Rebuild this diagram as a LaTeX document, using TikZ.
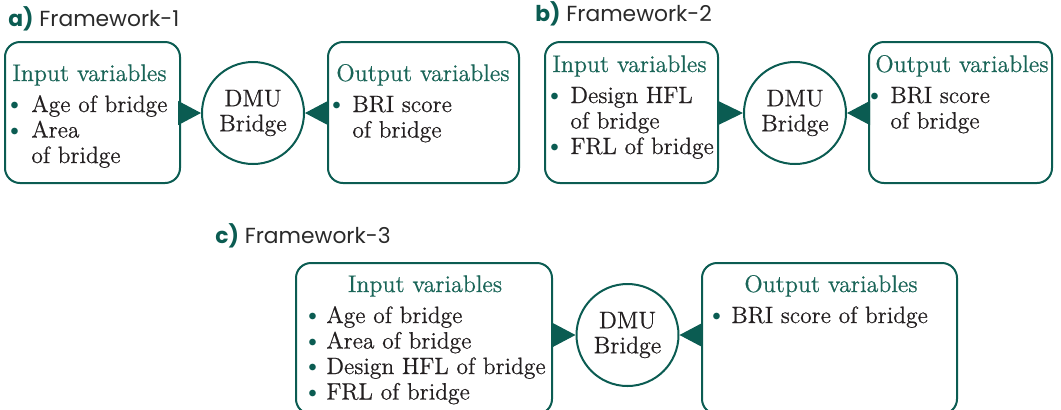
\documentclass[tikz,border=0pt]{standalone}
\usepackage{fontspec}
\setmainfont{Latin Modern Roman}[FakeBold=0.6]
\newfontfamily\labelfont{Poppins}
\usetikzlibrary{arrows.meta}

\definecolor{dmugreen}{HTML}{0B5C52}
\definecolor{headgreen}{HTML}{1A6558}
\definecolor{bodytext}{HTML}{231F20}
\definecolor{labelgray}{HTML}{2A2A2A}

\newcommand{\bul}{\textcolor{dmugreen}{\raisebox{1.2pt}{\fontsize{8.5}{9}\selectfont$\bullet$}}}
\newcommand{\fwlabel}[2]{{\labelfont\fontsize{10.9}{13}\selectfont\textcolor{dmugreen}{\bfseries #1)}\ \textcolor{labelgray}{Framework-#2}}}

\tikzset{
  varbox/.style={draw=dmugreen, line width=1pt, rounded corners=7.5pt, inner sep=0pt},
  dmu/.style={circle, draw=dmugreen, line width=1pt, minimum size=51pt, inner sep=0pt,
    align=center, font=\fontsize{12}{12.5}\selectfont, text=bodytext},
  feed/.style={draw=dmugreen, line width=0.6pt, -{Triangle[length=#1,width=12pt]}},
  feed/.default=11.5pt,
  vhead/.style={font=\fontsize{12}{13}\selectfont, text=headgreen, inner sep=0pt},
  vlist/.style={font=\fontsize{11.8}{12.75}\selectfont, text=bodytext, inner sep=0pt, anchor=base west},
  fwtitle/.style={inner sep=0pt, anchor=base west}
}

\begin{document}
\begin{tikzpicture}[x=0.5pt, y=-0.5pt]
  \useasboundingbox (0,0) rectangle (1061,409);

  % a) Framework-1
  \node[fwtitle] (laba) at (8,26) {\fwlabel{a}{1}};
  \node[varbox, minimum width=87.5pt, minimum height=70.5pt] (ina) at (92.5,112.5) {};
  \node[varbox, minimum width=95.5pt, minimum height=70.5pt] (outa) at (423.5,112.5) {};
  \node[dmu] (dmua) at (253,113) {DMU\\Bridge};
  \node[vhead, anchor=base west] (ina-h) at (12,81) {Input variables};
  \node[vlist] (ina-l) at (10,112) {\begin{tabular}[t]{@{}p{10.5pt}@{}l@{}}
    \bul & Age of bridge\\ \bul & Area\\ & of bridge\end{tabular}};
  \node[vhead, anchor=base west] (outa-h) at (336,81) {Output variables};
  \node[vlist] (outa-l) at (332,112) {\begin{tabular}[t]{@{}p{10pt}@{}l@{}}
    \bul & BRI score\\ & of bridge\end{tabular}};
  \draw[feed] (ina.east |- dmua.west) -- (dmua.west);
  \draw[feed] (outa.west |- dmua.east) -- (dmua.east);

  % b) Framework-2
  \node[fwtitle] (labb) at (535,21) {\fwlabel{b}{2}};
  \node[varbox, minimum width=86.5pt, minimum height=70.5pt] (inb) at (631.5,112.5) {};
  \node[varbox, minimum width=91.5pt, minimum height=70.5pt] (outb) at (960.5,112.5) {};
  \node[dmu] (dmub) at (795,113) {DMU\\Bridge};
  \node[vhead, anchor=base west] (inb-h) at (552,72) {Input variables};
  \node[vlist] (inb-l) at (550,103) {\begin{tabular}[t]{@{}p{10pt}@{}l@{}}
    \bul & Design HFL\\ & of bridge\\ \bul & FRL of bridge\end{tabular}};
  \node[vhead, anchor=base west] (outb-h) at (875,72) {Output variables};
  \node[vlist] (outb-l) at (870,103) {\begin{tabular}[t]{@{}p{10pt}@{}l@{}}
    \bul & BRI score\\ & of bridge\end{tabular}};
  \draw[feed=12.5pt] (inb.east |- dmub.west) -- (dmub.west);
  \draw[feed] (outb.west |- dmub.east) -- (dmub.east);

  % c) Framework-3
  \node[fwtitle] (labc) at (215,243) {\fwlabel{c}{3}};
  \node[varbox, minimum width=128pt, minimum height=75.5pt] (inc) at (424,338.5) {};
  \node[varbox, minimum width=127.5pt, minimum height=75.5pt] (outc) at (829.5,338.5) {};
  \node[dmu] (dmuc) at (627.5,335) {DMU\\Bridge};
  \node[vhead, anchor=base] (inc-h) at (425,292) {Input variables};
  \node[vlist] (inc-l) at (308,323) {\begin{tabular}[t]{@{}p{9pt}@{}l@{}}
    \bul & Age of bridge\\ \bul & Area of bridge\\ \bul & Design HFL of bridge\\
    \bul & FRL of bridge\end{tabular}};
  \node[vhead, anchor=base] (outc-h) at (831,292) {Output variables};
  \node[vlist] (outc-l) at (712,323) {\begin{tabular}[t]{@{}p{9.5pt}@{}l@{}}
    \bul & BRI score of bridge\end{tabular}};
  \draw[feed] (inc.east |- dmuc.west) -- (dmuc.west);
  \draw[feed] (outc.west |- dmuc.east) -- (dmuc.east);
\end{tikzpicture}
\end{document}
